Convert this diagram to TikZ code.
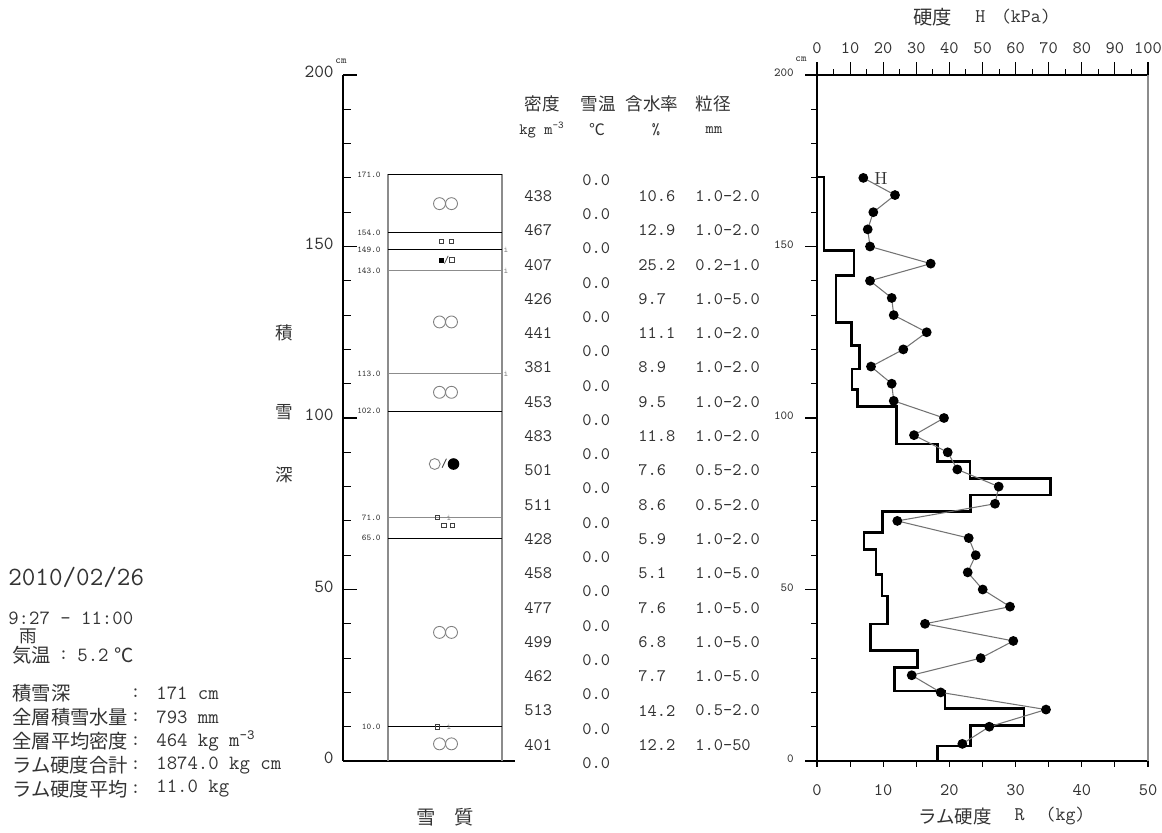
\documentclass[tikz,border=0pt]{standalone}
\usepackage{fontspec}
\newfontfamily\jp{Noto Sans CJK JP}
\newcommand\cmy[1]{(761-3.43*(#1))}
\tikzset{
  txt/.style={inner sep=0pt, text=black!80},
  dat/.style={txt, font=\fontsize{10}{12}\selectfont\ttfamily, anchor=west},
  jlab/.style={txt, font=\fontsize{10}{12}\selectfont\jp},
  blj/.style={txt, font=\fontsize{11}{13}\selectfont\jp, anchor=west},
  blv/.style={txt, font=\fontsize{11.5}{13}\selectfont\ttfamily, anchor=west},
  lyr/.style={txt, font=\fontsize{5}{6}\selectfont\ttfamily, anchor=east},
  imark/.style={txt, text=black!50, font=\fontsize{5}{6}\selectfont\ttfamily},
  axl/.style={txt, font=\fontsize{10.5}{12}\selectfont\ttfamily, anchor=east},
  rax/.style={txt, font=\fontsize{7}{8}\selectfont\ttfamily, anchor=east},
  tkl/.style={txt, font=\fontsize{10}{11}\selectfont\ttfamily},
  ax/.style={draw=black, line width=0.6pt},
  gline/.style={draw=black!45, line width=0.6pt},
  bline/.style={draw=black, line width=0.6pt},
  grain/.style={draw=black!50, line width=0.5pt},
  sq/.style={draw=black!75, line width=0.5pt},
  steps/.style={draw=black, line width=1.4pt, line join=miter},
  hline/.style={draw=black!55, line width=0.6pt},
}
\begin{document}
\begin{tikzpicture}[x=0.02cm,y=-0.02cm]
\useasboundingbox (0,0) rectangle (1162,832);

% ---------- left depth axis ----------
\draw[ax] (343,75) -- (343,761);
\draw[ax] (343,761) -- (515,761);
\foreach \c in {10,20,...,190} \draw[ax] (343,{\cmy{\c}}) -- (351,{\cmy{\c}});
\foreach \c in {50,100,150,200} \draw[ax] (343,{\cmy{\c}}) -- (357,{\cmy{\c}});
\foreach \c in {200,150,100,50,0} \node[axl] (ax\c) at (334,{\cmy{\c}-3}) {\c};
\node[txt, font=\fontsize{6}{7}\selectfont\ttfamily] (cmL) at (341,61) {cm};
\node[jlab] (lbA) at (284,333) {積};
\node[jlab] (lbB) at (284,412) {雪};
\node[jlab] (lbC) at (284,475) {深};

% ---------- snow column ----------
\draw[gline] (388,{\cmy{171}}) -- (388,761);
\draw[gline] (502,{\cmy{171}}) -- (502,761);
\foreach \c in {171,154,149,102,65,10} {
  \draw[bline] (388,{\cmy{\c}}) -- (502,{\cmy{\c}});
  \node[lyr] (ly\c) at (381,{\cmy{\c}}) {\c.0};
}
\foreach \c in {143,113,71} {
  \draw[gline] (388,{\cmy{\c}}) -- (502,{\cmy{\c}});
  \node[lyr] (ly\c) at (381,{\cmy{\c}}) {\c.0};
}
\foreach \c in {149,143,113} \node[imark] (im\c) at (506,{\cmy{\c}}) {i};
\node[imark] (im71) at (449,{\cmy{71}}) {i};
\node[imark] (im10) at (449,{\cmy{10}}) {i};
\draw[sq] (435,{\cmy{71}-2.3}) rectangle (439.5,{\cmy{71}+2.3});
\draw[sq] (435,{\cmy{10}-2.3}) rectangle (439.5,{\cmy{10}+2.3});

% grain shapes: two open circles
\foreach \c in {162.5,128,107.5,37.5,5} {
  \draw[grain] (439.5,{\cmy{\c}}) circle (3.4pt);
  \draw[grain] (451.5,{\cmy{\c}}) circle (3.4pt);
}
% small squares
\draw[sq] (439,{\cmy{151.5}-2.3}) rectangle (443.5,{\cmy{151.5}+2.3});
\draw[sq] (449,{\cmy{151.5}-2.3}) rectangle (453.5,{\cmy{151.5}+2.3});
\fill[black] (438.5,{\cmy{146}-2.5}) rectangle (443.5,{\cmy{146}+2.5});
\node[txt, font=\fontsize{6}{7}\selectfont\ttfamily] (sl1) at (446.5,{\cmy{146}}) {/};
\draw[sq] (449.5,{\cmy{146}-2.3}) rectangle (454,{\cmy{146}+2.3});
\draw[sq] (441.7,523) rectangle (446,527.3);
\draw[sq] (450,523) rectangle (454.3,527.3);
% rounded / melt forms
\draw[grain] (434.7,464) circle (3.1pt);
\node[txt, font=\fontsize{7}{8}\selectfont\ttfamily] (sl2) at (444.5,464) {/};
\fill[black] (453.5,464) circle (3.3pt);

\node[txt, font=\fontsize{11}{13}\selectfont\jp] (sq) at (445,817) {雪　質};

% ---------- data table ----------
\node[jlab] (hd1) at (542,104) {密度};
\node[jlab] (hd2) at (598,104) {雪温};
\node[jlab] (hd3) at (652,104) {含水率};
\node[jlab] (hd4) at (713,104) {粒径};
\node[txt, font=\fontsize{9}{10}\selectfont\ttfamily] (un1) at (542,130) {kg m\textsuperscript{-3}};
\node[txt, font=\fontsize{9}{10}\selectfont\jp] (un2) at (597,130) {℃};
\node[txt, font=\fontsize{9}{10}\selectfont\ttfamily] (un3) at (656,130) {\%};
\node[txt, font=\fontsize{9}{10}\selectfont\ttfamily] (un4) at (714,130) {mm};

\foreach \c in {170,160,...,0} \node[dat] (t\c) at (582,{\cmy{\c}+2}) {0.0};
\foreach \c/\d/\w/\g in {165/438/10.6/1.0-2.0, 155/467/12.9/1.0-2.0,
  145/407/25.2/0.2-1.0, 135/426/9.7/1.0-5.0, 125/441/11.1/1.0-2.0,
  115/381/8.9/1.0-2.0, 105/453/9.5/1.0-2.0, 95/483/11.8/1.0-2.0,
  85/501/7.6/0.5-2.0, 75/511/8.6/0.5-2.0, 65/428/5.9/1.0-2.0,
  55/458/5.1/1.0-5.0, 45/477/7.6/1.0-5.0, 35/499/6.8/1.0-5.0,
  25/462/7.7/1.0-5.0, 15/513/14.2/0.5-2.0, 5/401/12.2/1.0-50} {
  \node[dat] (d\c) at (524,{\cmy{\c}+1}) {\d};
  \node[dat] (w\c) at (638,{\cmy{\c}+1}) {\w};
  \node[dat] (g\c) at (695,{\cmy{\c}+1}) {\g};
}

% ---------- hardness chart ----------
\draw[ax] (805,75) -- (1148,75);
\draw[ax] (805,761) -- (1148,761);
\draw[ax] (817,75) -- (817,767);
\draw[gline] (1148,75) -- (1148,761);
\foreach \c in {10,20,...,190} \draw[ax] (811,{\cmy{\c}}) -- (817,{\cmy{\c}});
\foreach \c in {50,100,150} \draw[ax] (805,{\cmy{\c}}) -- (817,{\cmy{\c}});
\foreach \c in {200,150,100,50,0} \node[rax] (rl\c) at (794,{\cmy{\c}-2}) {\c};
\node[txt, font=\fontsize{6}{7}\selectfont\ttfamily] (cmR) at (801,59) {cm};
% top H axis
\foreach \h in {5,15,...,95} \draw[ax] ({817+3.31*\h},75) -- ({817+3.31*\h},69);
\foreach \h in {0,10,...,100} {
  \draw[ax] ({817+3.31*\h},75) -- ({817+3.31*\h},62);
  \node[tkl] (ht\h) at ({817+3.31*\h},48) {\h};
}
\node[txt, font=\fontsize{11}{13}\selectfont\jp] (htitle) at (932.5,17) {硬度};
\node[txt, font=\fontsize{11}{13}\selectfont\ttfamily] (htitle2) at (1013,17) {H\hspace{9pt}(kPa)};
% bottom R axis
\foreach \r in {0,5,...,50} \draw[ax] ({817+6.62*\r},761) -- ({817+6.62*\r},767);
\foreach \r in {0,10,...,50} \node[tkl] (rt\r) at ({817+6.62*\r},790) {\r};
\node[txt, font=\fontsize{10.5}{13}\selectfont\jp] (rtitle) at (955,816) {ラム硬度};
\node[txt, font=\fontsize{11}{13}\selectfont\ttfamily] (rtitle2) at (1050,816) {R\hspace{12pt}(kg)};

% ram hardness steps
\draw[steps] (817,177) -- (824,177) -- (824,250.7) -- (854,250.7) -- (854,275.7)
  -- (836,275.7) -- (836,322.7) -- (851.7,322.7) -- (851.7,345.7) -- (859.3,345.7)
  -- (859.3,369) -- (852,369) -- (852,389.3) -- (857.7,389.3) -- (857.7,406.7)
  -- (896.7,406.7) -- (896.7,444) -- (937.3,444) -- (937.3,461.7) -- (970,461.7)
  -- (970,478.3) -- (1050.7,478.3) -- (1050.7,495) -- (970.7,495) -- (970.7,511.7)
  -- (882.3,511.7) -- (882.3,532.3) -- (864,532.3) -- (864,549.3) -- (876,549.3)
  -- (876,574.3) -- (882,574.3) -- (882,596) -- (887.3,596) -- (887.3,624)
  -- (870.7,624) -- (870.7,650.7) -- (917.3,650.7) -- (917.3,667.7) -- (894.3,667.7)
  -- (894.3,691) -- (945,691) -- (945,708.7) -- (1024,708.7) -- (1024,725.7)
  -- (970.7,725.7) -- (970.7,746) -- (937.7,746) -- (937.7,761);

% H profile
\foreach \hx [count=\i] in {863.3,895,873.3,867.7,870,930.7,870,891.7,893.7,926.7,
  903.3,871,891.7,893.7,944,914,947.7,957.3,998.7,995,897.3,968.7,975.7,967.7,
  982.7,1010,925,1013.3,980.7,911.7,940.7,1046,989.3,962.3}
  \coordinate (h\i) at (\hx,{\cmy{175-5*\i}});
\draw[hline] (h1) \foreach \i in {2,...,34} { -- (h\i) };
\foreach \i in {1,...,34} \fill[black] (h\i) circle (2.8pt);
\node[txt, font=\fontsize{10}{12}\selectfont\rmfamily] (hlab) at (881,178) {H};

% ---------- observation summary ----------
\node[txt, font=\fontsize{15}{17}\selectfont\ttfamily, anchor=west] (date) at (8,577) {2010/02/26};
\node[txt, font=\fontsize{11.5}{13}\selectfont\ttfamily, anchor=west] (time) at (8,618) {9:27 - 11:00};
\node[txt, font=\fontsize{10}{12}\selectfont\jp] (wx) at (28,636) {雨};
\node[blj] (ta) at (12,655) {気温};
\node[blv] (tac) at (58,655) {:};
\node[blv] (tav) at (77,655) {5.2};
\node[txt, font=\fontsize{11}{13}\selectfont\jp, anchor=west] (tau) at (114,655) {℃};
\foreach \y/\k/\v [count=\n] in {
  693/積雪深/171 cm,
  717/全層積雪水量/793 mm,
  741/全層平均密度/464 kg m\textsuperscript{-3},
  765/ラム硬度合計/1874.0 kg cm,
  789/ラム硬度平均/11.0 kg} {
  \node[blj] (sk\n) at (12,\y) {\k};
  \node[blv] (sc\n) at (130,\y) {:};
  \node[blv] (sv\n) at (156,\y) {\v};
}
\end{tikzpicture}
\end{document}
